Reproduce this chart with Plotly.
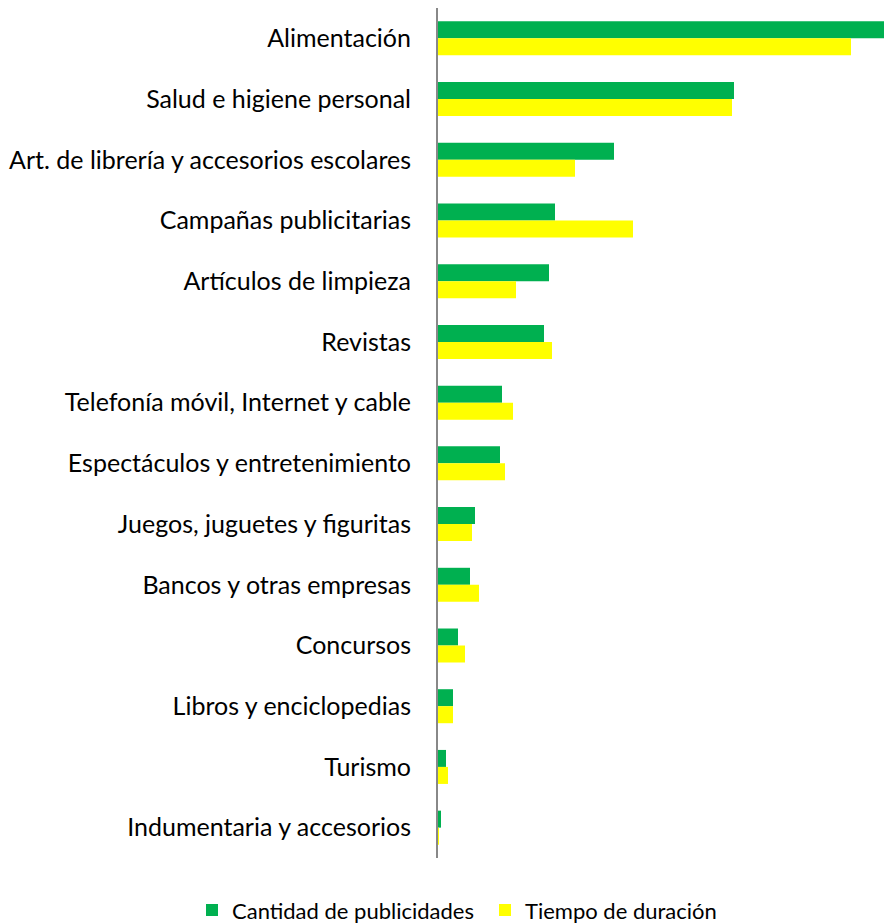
import plotly.graph_objects as go

categories = [
    "Alimentación",
    "Salud e higiene personal",
    "Art. de librería y accesorios escolares",
    "Campañas publicitarias",
    "Artículos de limpieza",
    "Revistas",
    "Telefonía móvil, Internet y cable",
    "Espectáculos y entretenimiento",
    "Juegos, juguetes y figuritas",
    "Bancos y otras empresas",
    "Concursos",
    "Libros y enciclopedias",
    "Turismo",
    "Indumentaria y accesorios",
]
cantidad = [446, 296, 176, 117, 111, 106, 64, 62, 37, 32, 20, 15, 8, 3]
tiempo = [413, 294, 137, 195, 78, 114, 75, 67, 34, 41, 27, 15, 10, 0.6]

fig = go.Figure()
fig.add_trace(go.Bar(y=categories, x=cantidad, orientation="h",
                     name="Cantidad de publicidades", marker_color="#00B050",
                     marker_line_width=0, legend="legend"))
fig.add_trace(go.Bar(y=categories, x=tiempo, orientation="h",
                     name="Tiempo de duración", marker_color="#FFFF00",
                     marker_line_width=0, legend="legend2"))

leg_common = dict(orientation="h", xref="container", yref="container",
                  yanchor="middle", xanchor="left", font=dict(size=22),
                  itemwidth=30, bgcolor="rgba(0,0,0,0)")

fig.update_layout(
    width=884, height=924,
    margin=dict(l=438, r=0, t=8, b=66),
    paper_bgcolor="white", plot_bgcolor="white",
    barmode="group", bargap=0.44, bargroupgap=0,
    font=dict(family="Lato, Carlito, sans-serif", size=25, color="#000000"),
    showlegend=True,
    legend=dict(x=192 / 884, y=0.015, **leg_common),
    legend2=dict(x=485 / 884, y=0.015, **leg_common),
)
fig.update_xaxes(range=[0, 446], showticklabels=False, showgrid=False,
                 zeroline=False, showline=False)
fig.update_yaxes(autorange="reversed", showline=True, linecolor="#888888",
                 linewidth=2, ticks="", showgrid=False, ticklabelstandoff=20)

fig.write_html("out.html")
